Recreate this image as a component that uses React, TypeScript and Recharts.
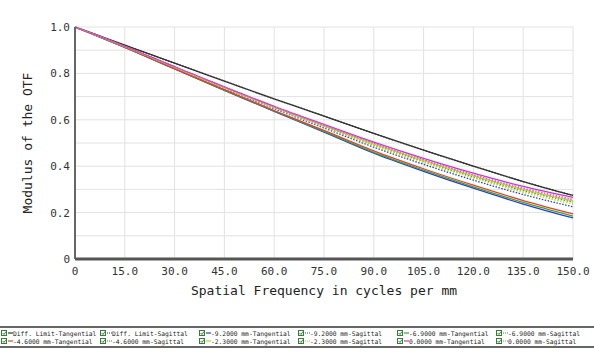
import React from "react";
import {
  LineChart,
  Line,
  XAxis,
  YAxis,
  CartesianGrid,
  Label,
} from "recharts";

// spatial frequency samples (cycles per mm)
const freq = [0, 15, 30, 45, 60, 75, 90, 105, 120, 135, 150];

// modulus values
const diffLimitT = [1, 0.922, 0.844, 0.767, 0.69, 0.616, 0.541, 0.469, 0.4, 0.334, 0.274];
const diffLimitS = [1, 0.922, 0.844, 0.767, 0.69, 0.616, 0.541, 0.469, 0.4, 0.334, 0.274];
const m92T = [1, 0.912, 0.819, 0.727, 0.636, 0.547, 0.456, 0.378, 0.305, 0.237, 0.177];
const m92S = [1, 0.915, 0.824, 0.735, 0.648, 0.565, 0.482, 0.408, 0.34, 0.278, 0.225];
const m69T = [1, 0.912, 0.82, 0.728, 0.638, 0.55, 0.46, 0.383, 0.311, 0.244, 0.185];
const m69S = [1, 0.916, 0.827, 0.738, 0.653, 0.572, 0.492, 0.421, 0.354, 0.295, 0.245];
const m46T = [1, 0.913, 0.821, 0.73, 0.64, 0.554, 0.466, 0.389, 0.318, 0.252, 0.195];
const m46S = [1, 0.916, 0.827, 0.74, 0.654, 0.575, 0.496, 0.425, 0.36, 0.301, 0.252];
const m23T = [1, 0.916, 0.827, 0.739, 0.654, 0.574, 0.495, 0.424, 0.358, 0.299, 0.25];
const m23S = [1, 0.915, 0.826, 0.737, 0.651, 0.569, 0.488, 0.416, 0.349, 0.288, 0.237];
const m0T = [1, 0.917, 0.829, 0.742, 0.658, 0.58, 0.504, 0.434, 0.37, 0.313, 0.266];
const m0S = [1, 0.9165, 0.828, 0.741, 0.656, 0.577, 0.5, 0.429, 0.364, 0.306, 0.258];

const xTicks = [0, 15, 30, 45, 60, 75, 90, 105, 120, 135, 150];
const yTicks = [0, 0.1, 0.2, 0.3, 0.4, 0.5, 0.6, 0.7, 0.8, 0.9, 1.0];

const series = [
  { key: "dlT", name: "Diff. Limit-Tangential", color: "#333333", dashed: false, values: diffLimitT },
  { key: "dlS", name: "Diff. Limit-Sagittal", color: "#333333", dashed: true, values: diffLimitS },
  { key: "m92T", name: "-9.2000 mm-Tangential", color: "#2b3fc4", dashed: false, values: m92T },
  { key: "m92S", name: "-9.2000 mm-Sagittal", color: "#2b3fc4", dashed: true, values: m92S },
  { key: "m69T", name: "-6.9000 mm-Tangential", color: "#3aa040", dashed: false, values: m69T },
  { key: "m69S", name: "-6.9000 mm-Sagittal", color: "#3aa040", dashed: true, values: m69S },
  { key: "m46T", name: "-4.6000 mm-Tangential", color: "#e0452a", dashed: false, values: m46T },
  { key: "m46S", name: "-4.6000 mm-Sagittal", color: "#e0452a", dashed: true, values: m46S },
  { key: "m23T", name: "-2.3000 mm-Tangential", color: "#b8d040", dashed: false, values: m23T },
  { key: "m23S", name: "-2.3000 mm-Sagittal", color: "#b8d040", dashed: true, values: m23S },
  { key: "m0T", name: "0.0000 mm-Tangential", color: "#cc33cc", dashed: false, values: m0T },
  { key: "m0S", name: "0.0000 mm-Sagittal", color: "#e060c0", dashed: true, values: m0S },
];

const data = freq.map((f, i) => {
  const row: Record<string, number> = { freq: f };
  series.forEach((s) => {
    row[s.key] = s.values[i];
  });
  return row;
});

const mono = "'DejaVu Sans Mono', 'Liberation Mono', monospace";

const fmt = (v: number) => (v === 0 ? "0" : v.toFixed(1));

const LegendItem = ({ s }: { s: (typeof series)[number] }) => (
  <div style={{ display: "flex", alignItems: "center", width: 99, height: 8 }}>
    <svg width={13} height={8} style={{ flexShrink: 0 }}>
      <rect x={1.5} y={1.5} width={5} height={5} fill="#fff" stroke="#3a7a3a" strokeWidth={1} />
      <path d="M2.5 4 L4 5.5 L6 2.5" stroke="#2a8a2a" strokeWidth={1} fill="none" />
      <line
        x1={8}
        x2={13}
        y1={4}
        y2={4}
        stroke={s.color}
        strokeWidth={1.2}
        strokeDasharray={s.dashed ? "1 1" : undefined}
      />
    </svg>
    <span style={{ fontFamily: mono, fontSize: 6.3, color: "#222", whiteSpace: "nowrap" }}>
      {s.name}
    </span>
  </div>
);

export default function App() {
  return (
    <div style={{ position: "relative", width: 594, height: 355, background: "#fff" }}>
      <style>{`body{margin:0}`}</style>
      <LineChart
        width={594}
        height={300}
        data={data}
        margin={{ top: 27, right: 21, left: 0, bottom: 5 }}
      >
        <CartesianGrid stroke="#e2e2e2" strokeWidth={1} horizontalValues={yTicks} verticalValues={xTicks} />
        <XAxis
          dataKey="freq"
          type="number"
          domain={[0, 150]}
          ticks={xTicks}
          tickFormatter={fmt}
          tickLine={false}
          height={36}
          axisLine={{ stroke: "#555", strokeWidth: 3 }}
          tick={{ fontFamily: mono, fontSize: 11, fill: "#333" }}
        >
          <Label
            value="Spatial Frequency in cycles per mm"
            position="insideBottom"
            offset={0}
            style={{ fontFamily: mono, fontSize: 13, fill: "#222" }}
          />
        </XAxis>
        <YAxis
          type="number"
          domain={[0, 1]}
          ticks={yTicks}
          tickFormatter={(v: number) => (Math.round(v * 10) % 2 === 0 ? fmt(v) : "")}
          tickLine={false}
          tickSize={3}
          width={75}
          axisLine={{ stroke: "#666", strokeWidth: 2 }}
          tick={{ fontFamily: mono, fontSize: 11, fill: "#333" }}
        >
          <Label
            value="Modulus of the OTF"
            angle={-90}
            position="center"
            dx={-10}
            style={{ fontFamily: mono, fontSize: 13, fill: "#222", textAnchor: "middle" }}
          />
        </YAxis>
        {series.map((s) => (
          <Line
            key={s.key}
            dataKey={s.key}
            name={s.name}
            type="monotone"
            stroke={s.color}
            strokeWidth={1.3}
            strokeDasharray={s.dashed ? "1.5 1.5" : undefined}
            dot={false}
            isAnimationActive={false}
          />
        ))}
      </LineChart>
      <div
        style={{
          position: "absolute",
          top: 326,
          left: 0,
          width: 594,
          height: 22,
          borderTop: "2px solid #666",
          borderBottom: "2px solid #666",
          boxSizing: "border-box",
          paddingTop: 1,
          display: "flex",
          flexWrap: "wrap",
          alignContent: "flex-start",
        }}
      >
        {series.map((s) => (
          <LegendItem key={s.key} s={s} />
        ))}
      </div>
    </div>
  );
}
